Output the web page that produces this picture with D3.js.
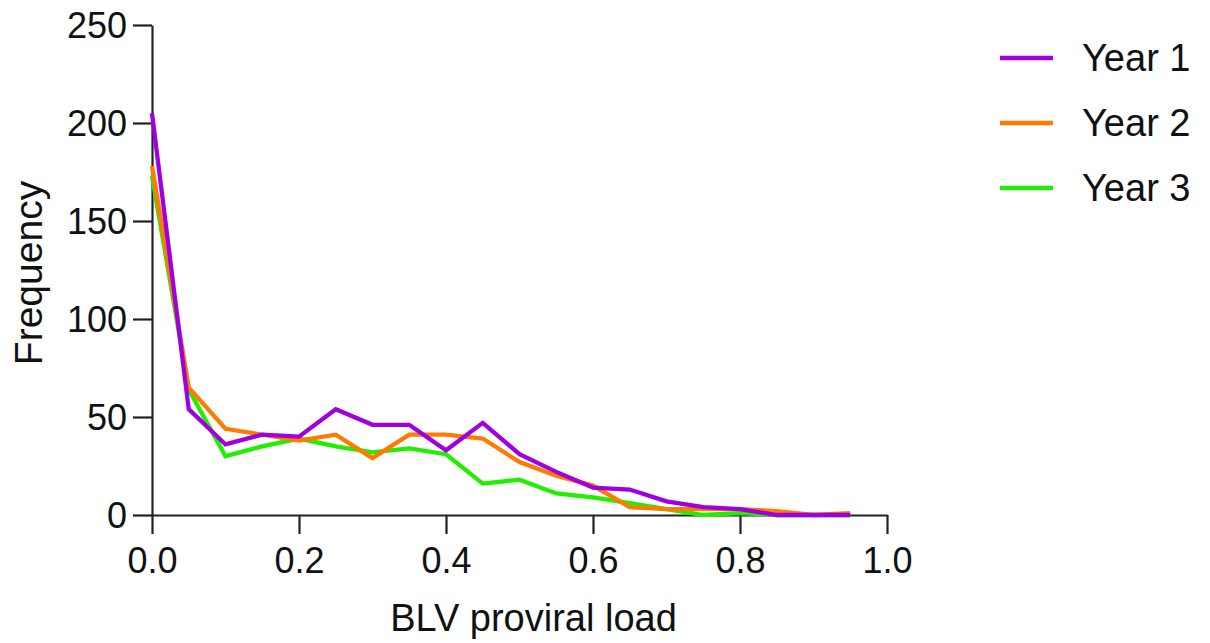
<!DOCTYPE html>
<html>
<head>
<meta charset="utf-8">
<script src="https://cdn.jsdelivr.net/npm/d3@7"></script>
<style>
  html, body { margin: 0; padding: 0; background: #fff; }
  svg { display: block; font-family: "Liberation Sans", Arial, sans-serif; }
</style>
</head>
<body>
<svg id="chart" width="1210" height="643"></svg>
<script>
// Bin centres of the proviral load histogram
const loadBins = [0.00, 0.05, 0.10, 0.15, 0.20, 0.25, 0.30, 0.35, 0.40, 0.45,
                  0.50, 0.55, 0.60, 0.65, 0.70, 0.75, 0.80, 0.85, 0.90, 0.95];

// Frequency per bin for each sampling year
const year1 = [205, 54, 36, 41, 40, 54, 46, 46, 33, 47, 31, 22, 14, 13, 7, 4, 3, 0, 0, 0];
const year2 = [178, 65, 44, 41, 38, 41, 29, 41, 41, 39, 27, 20, 15, 4, 3, 3, 3, 2, 0, 1];
const year3 = [173, 64, 30, 35, 39, 35, 32, 34, 31, 16, 18, 11, 9, 6, 3, 0, 1, 0, 0, 0];

const seriesNames = ["Year 1", "Year 2", "Year 3"];
const seriesColors = ["#a000e0", "#ff7b00", "#22ee00"];
const seriesValues = [year1, year2, year3];

const xTicks = [0, 0.2, 0.4, 0.6, 0.8, 1.0];
const yTicks = [0, 50, 100, 150, 200, 250];

const svg = d3.select("#chart");

const x = d3.scaleLinear().domain([0, 1]).range([152, 887]);
const y = d3.scaleLinear().domain([0, 250]).range([515, 25]);

// Axes
const xAxis = svg.append("g")
  .attr("transform", `translate(0,${y(0)})`)
  .call(d3.axisBottom(x).tickValues(xTicks).tickFormat(d3.format(".1f")).tickSize(19).tickPadding(13).tickSizeOuter(0));

const yAxis = svg.append("g")
  .attr("transform", `translate(${x(0)},0)`)
  .call(d3.axisLeft(y).tickValues(yTicks).tickSize(19).tickPadding(6).tickSizeOuter(0));

[xAxis, yAxis].forEach(g => {
  g.select(".domain").attr("stroke", "#222").attr("stroke-width", 2.2);
  g.selectAll(".tick line").attr("stroke", "#222").attr("stroke-width", 2.2);
  g.selectAll(".tick text")
    .attr("fill", "#111")
    .style("font-size", "36px")
    .style("font-family", "'Liberation Sans', Arial, sans-serif");
});
yAxis.selectAll(".tick text").attr("dy", "0.36em");

// Axis titles
svg.append("text")
  .attr("x", (x(0) + x(1)) / 2 + 14)
  .attr("y", 631)
  .attr("text-anchor", "middle")
  .attr("fill", "#111")
  .style("font-size", "38px")
  .text("BLV proviral load");

svg.append("text")
  .attr("transform", `translate(42,${(y(0) + y(250)) / 2 + 3}) rotate(-90)`)
  .attr("text-anchor", "middle")
  .attr("fill", "#111")
  .style("font-size", "39px")
  .text("Frequency");

// Series lines
const line = d3.line()
  .x((d, i) => x(loadBins[i]))
  .y(d => y(d));

seriesValues.slice().reverse().forEach((vals, k) => {
  const i = seriesValues.length - 1 - k;
  svg.append("path")
    .datum(vals)
    .attr("fill", "none")
    .attr("stroke", seriesColors[i])
    .attr("stroke-width", 4.3)
    .attr("stroke-linejoin", "miter")
    .attr("d", line);
});

// Legend
const legend = svg.append("g");
seriesNames.forEach((name, i) => {
  const ly = 58 + i * 65;
  legend.append("line")
    .attr("x1", 1000).attr("x2", 1053)
    .attr("y1", ly).attr("y2", ly)
    .attr("stroke", seriesColors[i])
    .attr("stroke-width", 4.3);
  legend.append("text")
    .attr("x", 1082)
    .attr("y", ly + 13)
    .attr("fill", "#111")
    .style("font-size", "38px")
    .text(name);
});
</script>
</body>
</html>
